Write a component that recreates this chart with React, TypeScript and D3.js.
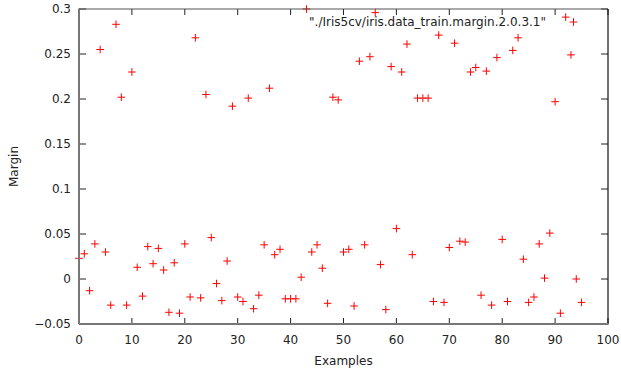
import React from "react";
import * as d3 from "d3";

// Per-example margin values, indexed by example number
const examples: number[] = d3.range(0, 96);
const margins: number[] = [
  0.023, 0.028, -0.013, 0.039, 0.255, 0.030, -0.029, 0.283, 0.202, -0.029,
  0.230, 0.013, -0.019, 0.036, 0.017, 0.034, 0.010, -0.037, 0.018, -0.038,
  0.039, -0.020, 0.268, -0.021, 0.205, 0.046, -0.005, -0.024, 0.020, 0.192,
  -0.020, -0.025, 0.201, -0.033, -0.018, 0.038, 0.212, 0.027, 0.033, -0.022,
  -0.022, -0.022, 0.002, 0.300, 0.030, 0.038, 0.012, -0.027, 0.202, 0.199,
  0.030, 0.033, -0.030, 0.242, 0.038, 0.247, 0.296, 0.016, -0.034, 0.236,
  0.056, 0.230, 0.261, 0.027, 0.201, 0.201, 0.201, -0.025, 0.271, -0.026,
  0.035, 0.262, 0.042, 0.041, 0.230, 0.235, -0.018, 0.231, -0.029, 0.246,
  0.044, -0.025, 0.254, 0.268, 0.022, -0.026, -0.020, 0.039, 0.001, 0.051,
  0.197, -0.038, 0.291, 0.249, 0.000, -0.026,
];
const xTicks: number[] = [0, 10, 20, 30, 40, 50, 60, 70, 80, 90, 100];
const yTicks: number[] = [-0.05, 0, 0.05, 0.1, 0.15, 0.2, 0.25, 0.3];
const seriesTitle = '"./Iris5cv/iris.data_train.margin.2.0.3.1"';

const W = 621;
const H = 376;
const left = 79;
const right = 608;
const top = 9;
const bottom = 324;
const FONT = "'DejaVu Sans', sans-serif";
const TXT = "#222";

function Plus({ x, y, r = 3.8 }: { x: number; y: number; r?: number }) {
  return (
    <path
      d={`M${x - r},${y}H${x + r}M${x},${y - r}V${y + r}`}
      stroke="#ff0000"
      strokeWidth={1}
      fill="none"
    />
  );
}

export default function App() {
  const xs = d3.scaleLinear().domain([0, 100]).range([left, right]);
  const ys = d3.scaleLinear().domain([-0.05, 0.3]).range([bottom, top]);
  const fmtY = (v: number) => d3.format("")(+v.toFixed(2));
  const tick = 6;

  return (
    <svg
      width={W}
      height={H}
      style={{ position: "absolute", left: 0, top: 0, background: "#fff" }}
      fontFamily={FONT}
    >
      {/* data points */}
      {examples.map((e, i) => (
        <Plus key={i} x={xs(e)} y={ys(margins[i])} />
      ))}

      {/* ticks, drawn inward on all four sides */}
      {xTicks.map((t) => (
        <g key={"xt" + t} stroke="#222" strokeWidth={1}>
          <line x1={xs(t)} x2={xs(t)} y1={bottom} y2={bottom - tick} />
          <line x1={xs(t)} x2={xs(t)} y1={top} y2={top + tick} />
        </g>
      ))}
      {yTicks.map((t) => (
        <g key={"yt" + t} stroke="#222" strokeWidth={1}>
          <line x1={left} x2={left + tick + 1} y1={ys(t)} y2={ys(t)} />
          <line x1={right} x2={right - tick - 1} y1={ys(t)} y2={ys(t)} />
        </g>
      ))}

      {/* border */}
      <line x1={left} x2={right} y1={top} y2={top} stroke="#555" strokeWidth={1.2} />
      <line x1={right} x2={right} y1={top} y2={bottom} stroke="#111" strokeWidth={1.2} />
      <line x1={left} x2={right + 0.6} y1={bottom} y2={bottom} stroke="#777" strokeWidth={2} />
      <line x1={left} x2={left} y1={top - 0.6} y2={bottom} stroke="#777" strokeWidth={2} />

      {/* tick labels */}
      {xTicks.map((t) => (
        <text
          key={"xl" + t}
          x={xs(t)}
          y={344}
          textAnchor="middle"
          fontSize={12}
          fill={TXT}
        >
          {t}
        </text>
      ))}
      {yTicks.map((t) => (
        <text
          key={"yl" + t}
          x={71}
          y={ys(t)}
          dy="0.36em"
          textAnchor="end"
          fontSize={12}
          fill={TXT}
        >
          {fmtY(t)}
        </text>
      ))}

      {/* axis titles */}
      <text x={(left + right) / 2} y={365} textAnchor="middle" fontSize={12} fill={TXT}>
        Examples
      </text>
      <text
        transform={`translate(18, ${(top + bottom) / 2}) rotate(-90)`}
        textAnchor="middle"
        fontSize={12}
        fill={TXT}
      >
        Margin
      </text>

      {/* key */}
      <text x={546} y={22} dy="0.36em" textAnchor="end" fontSize={12} fill={TXT}>
        {seriesTitle}
      </text>
      <Plus x={573.5} y={22} />
    </svg>
  );
}
